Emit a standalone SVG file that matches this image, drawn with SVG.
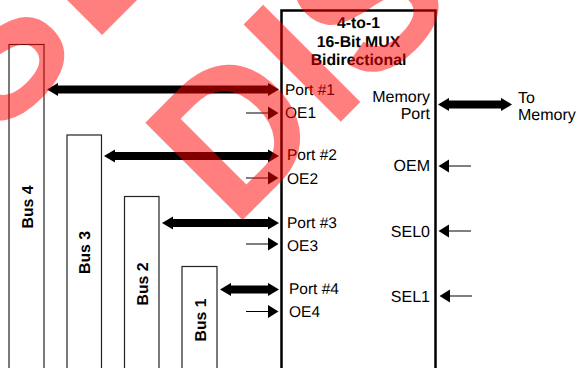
<svg xmlns="http://www.w3.org/2000/svg" width="576" height="368" viewBox="0 0 576 368">
<style>
text{font-family:"Liberation Sans",Arial,sans-serif;font-size:15.5px;fill:#000;text-rendering:geometricPrecision}
.b{font-weight:bold;font-size:15.8px}
.m{text-anchor:middle}
.e{text-anchor:end;font-size:16px}
.l{font-size:16px}
.bus{fill:#fff;stroke:#222;stroke-width:1.2}
.thick{stroke:#000;stroke-width:8;fill:none;marker-start:url(#hs);marker-end:url(#he)}
.thin{stroke:#000;stroke-width:1;fill:none;marker-end:url(#ht)}
.wm{font-weight:bold;font-size:200px;fill:#f00;fill-opacity:.5}
</style>
<defs>
<marker id="he" markerUnits="userSpaceOnUse" markerWidth="12" markerHeight="14" refX="0" refY="7" orient="auto"><path d="M0 .4L11 7L0 13.600z"/></marker>
<marker id="hs" markerUnits="userSpaceOnUse" markerWidth="12" markerHeight="14" refX="11" refY="7" orient="auto"><path d="M11 .4L0 7L11 13.600z"/></marker>
<marker id="ht" markerUnits="userSpaceOnUse" markerWidth="12" markerHeight="14" refX="0" refY="7" orient="auto"><path d="M0 .6L10.500 7L0 13.400z"/></marker>
</defs>
<g id="mux"><rect x="281.500" y="10.500" width="154" height="380" fill="#fff" stroke="#000" stroke-width="2.500"/>
<text class="b m" x="358.500" y="28">4-to-1</text><text class="b m" x="358.500" y="47">16-Bit MUX</text><text class="b m" x="358.500" y="65">Bidirectional</text>
<text x="285" y="95">Port #1</text><text x="285" y="118">OE1</text>
<text x="287" y="160">Port #2</text><text x="287" y="184">OE2</text>
<text x="287" y="228">Port #3</text><text x="287" y="251">OE3</text>
<text x="289" y="294">Port #4</text><text x="289" y="317">OE4</text>
<text class="e" x="430" y="102">Memory</text><text class="e" x="430" y="119">Port</text>
<text class="e" x="430" y="171">OEM</text><text class="e" x="430" y="237">SEL0</text><text class="e" x="430" y="302">SEL1</text></g>
<g id="bus4"><rect class="bus" x="9" y="44.500" width="35" height="340"/><text class="b m" transform="translate(33 207) rotate(-90)">Bus 4</text></g>
<g id="bus3"><rect class="bus" x="67" y="135" width="34.500" height="250"/><text class="b m" transform="translate(90 252.500) rotate(-90)">Bus 3</text></g>
<g id="bus2"><rect class="bus" x="124.500" y="196.500" width="34.500" height="190"/><text class="b m" transform="translate(148 284) rotate(-90)">Bus 2</text></g>
<g id="bus1"><rect class="bus" x="182" y="266.500" width="35" height="120"/><text class="b m" transform="translate(205.500 320) rotate(-90)">Bus 1</text></g>
<g id="connectors">
<line class="thick" x1="58" y1="89.500" x2="268" y2="89.500"/>
<line class="thick" x1="115" y1="156" x2="268" y2="156"/>
<line class="thick" x1="173" y1="223" x2="268" y2="223"/>
<line class="thick" x1="231" y1="289.500" x2="268" y2="289.500"/>
<line class="thick" x1="449" y1="104.500" x2="501" y2="104.500"/>
<line class="thin" x1="246" y1="113" x2="268" y2="113"/>
<line class="thin" x1="246" y1="178" x2="268" y2="178"/>
<line class="thin" x1="246" y1="244" x2="268" y2="244"/>
<line class="thin" x1="246" y1="311.500" x2="268" y2="311.500"/>
<line class="thin" x1="471" y1="166" x2="449" y2="166"/>
<line class="thin" x1="471" y1="231" x2="449" y2="231"/>
<line class="thin" x1="472" y1="296" x2="450" y2="296"/>
</g>
<g id="memory"><text class="l" x="518" y="103">To</text><text class="l" x="518" y="120">Memory</text></g>
<g id="watermark"><text class="wm" transform="translate(233.600 228.900) rotate(-45) scale(.96 1)">DIS</text><text class="wm" transform="translate(-5 142) rotate(-45) scale(.96 1)">S<tspan dx="11">E</tspan></text></g>
</svg>
